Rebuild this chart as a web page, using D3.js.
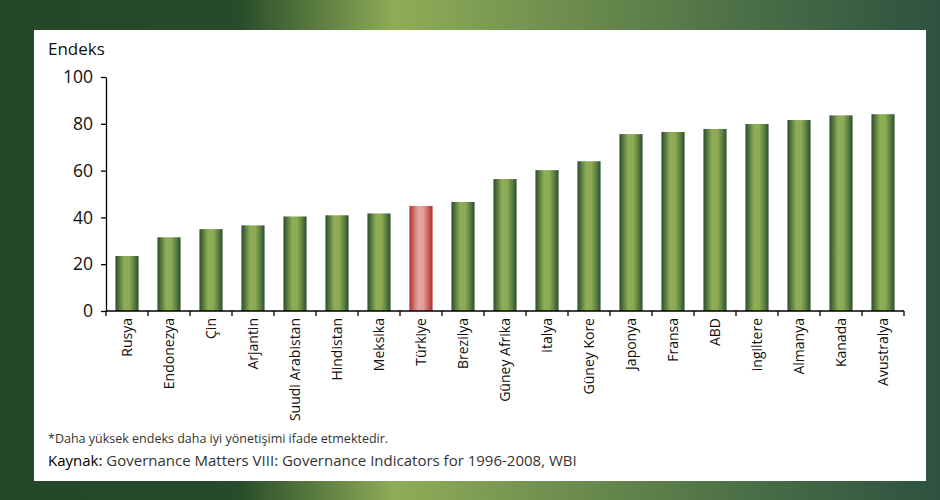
<!DOCTYPE html>
<html>
<head>
<meta charset="utf-8">
<script src="https://cdn.jsdelivr.net/npm/d3@7"></script>
<style>
  body { margin: 0; background: #fff; }
  svg text { font-family: "Open Sans", "Noto Sans", sans-serif; }
</style>
</head>
<body>
<svg id="chart" width="940" height="500"></svg>
<script>
const countries = ["Rusya", "Endonezya", "Çin", "Arjantin", "Suudi Arabistan", "Hindistan", "Meksika",
  "Türkiye", "Brezilya", "Güney Afrika", "italya", "Güney Kore", "Japonya", "Fransa", "ABD",
  "ingiltere", "Almanya", "Kanada", "Avustralya"];
const values = [23.5, 31.5, 35, 36.6, 40.4, 40.9, 41.7, 44.9, 46.6, 56.4, 60.2, 64.0, 75.6, 76.5,
  77.8, 79.9, 81.6, 83.6, 84.1];
const highlight = "Türkiye";
const yTicks = [0, 20, 40, 60, 80, 100];

const svg = d3.select("#chart");
const defs = svg.append("defs");

// frame background
const bg = defs.append("linearGradient").attr("id", "bg").attr("x1", 0).attr("x2", 1).attr("y1", 0).attr("y2", 0);
[[0, "#244827"], [0.25, "#264a2a"], [0.42, "#8fad57"], [0.6, "#6d8e4e"], [0.8, "#4a6e46"], [1, "#2d5240"]]
  .forEach(s => bg.append("stop").attr("offset", s[0]).attr("stop-color", s[1]));

// bar fills
const gGreen = defs.append("linearGradient").attr("id", "barGreen").attr("x1", 0).attr("x2", 1).attr("y1", 0).attr("y2", 0);
[[0, "#2a4c2e"], [0.2, "#5f8341"], [0.38, "#8fad56"], [0.6, "#8cab54"], [0.82, "#5b7e40"], [1, "#2a4c2e"]]
  .forEach(s => gGreen.append("stop").attr("offset", s[0]).attr("stop-color", s[1]));
const gRed = defs.append("linearGradient").attr("id", "barRed").attr("x1", 0).attr("x2", 1).attr("y1", 0).attr("y2", 0);
[[0, "#ad2e2c"], [0.2, "#cd7370"], [0.38, "#e3a3a1"], [0.6, "#e0a09e"], [0.82, "#c8605d"], [1, "#ad2e2c"]]
  .forEach(s => gRed.append("stop").attr("offset", s[0]).attr("stop-color", s[1]));

svg.append("rect").attr("width", 940).attr("height", 500).attr("fill", "url(#bg)");
svg.append("rect").attr("x", 34).attr("y", 30).attr("width", 892).attr("height", 451).attr("fill", "#fff");

const x = d3.scaleBand().domain(countries).range([106, 904]).paddingInner(0.45).paddingOuter(0.225);
const y = d3.scaleLinear().domain([0, 100]).range([311, 77]);

// bars
svg.append("g").selectAll("rect")
  .data(countries)
  .join("rect")
  .attr("x", d => x(d))
  .attr("y", (d, i) => y(values[i]))
  .attr("width", x.bandwidth())
  .attr("height", (d, i) => y(0) - y(values[i]))
  .attr("fill", d => d === highlight ? "url(#barRed)" : "url(#barGreen)");

// y axis
const yAxis = svg.append("g")
  .attr("transform", "translate(106,0)")
  .call(d3.axisLeft(y).tickValues(yTicks).tickSize(5).tickPadding(8).tickSizeOuter(0));
yAxis.select(".domain").attr("stroke", "#000").attr("stroke-width", 1.3);
yAxis.selectAll(".tick line").attr("stroke", "#000").attr("stroke-width", 1.3);
yAxis.selectAll("text").attr("font-size", 17.5).attr("fill", "#111");

// x axis
const xAxis = svg.append("g");
xAxis.append("line")
  .attr("x1", x.range()[0]).attr("x2", x.range()[1])
  .attr("y1", y(0)).attr("y2", y(0))
  .attr("stroke", "#000").attr("stroke-width", 1.3);
xAxis.selectAll(".sep")
  .data(d3.range(countries.length + 1))
  .join("line")
  .attr("class", "sep")
  .attr("x1", i => x.range()[0] + i * x.step())
  .attr("x2", i => x.range()[0] + i * x.step())
  .attr("y1", y(0)).attr("y2", y(0) + 5)
  .attr("stroke", "#000").attr("stroke-width", 1.3);
xAxis.selectAll(".cat")
  .data(countries)
  .join("text")
  .attr("class", "cat")
  .attr("transform", d => `translate(${x(d) + x.bandwidth() / 2},${y(0) + 7}) rotate(-90)`)
  .attr("dy", "0.35em")
  .attr("text-anchor", "end")
  .attr("font-size", 14)
  .attr("fill", "#111")
  .text(d => d);

// titles and notes
svg.append("text").attr("x", 48).attr("y", 55).attr("font-size", 17).attr("fill", "#111").text("Endeks");
svg.append("text").attr("x", 48).attr("y", 443).attr("font-size", 12.5).attr("fill", "#333")
  .text("*Daha yüksek endeks daha iyi yönetişimi ifade etmektedir.");
const src = svg.append("text").attr("x", 48).attr("y", 466).attr("font-size", 15).attr("fill", "#333");
src.append("tspan").attr("fill", "#000").text("Kaynak:");
src.append("tspan").text(" Governance Matters VIII: Governance Indicators for 1996-2008, WBI");
</script>
</body>
</html>
